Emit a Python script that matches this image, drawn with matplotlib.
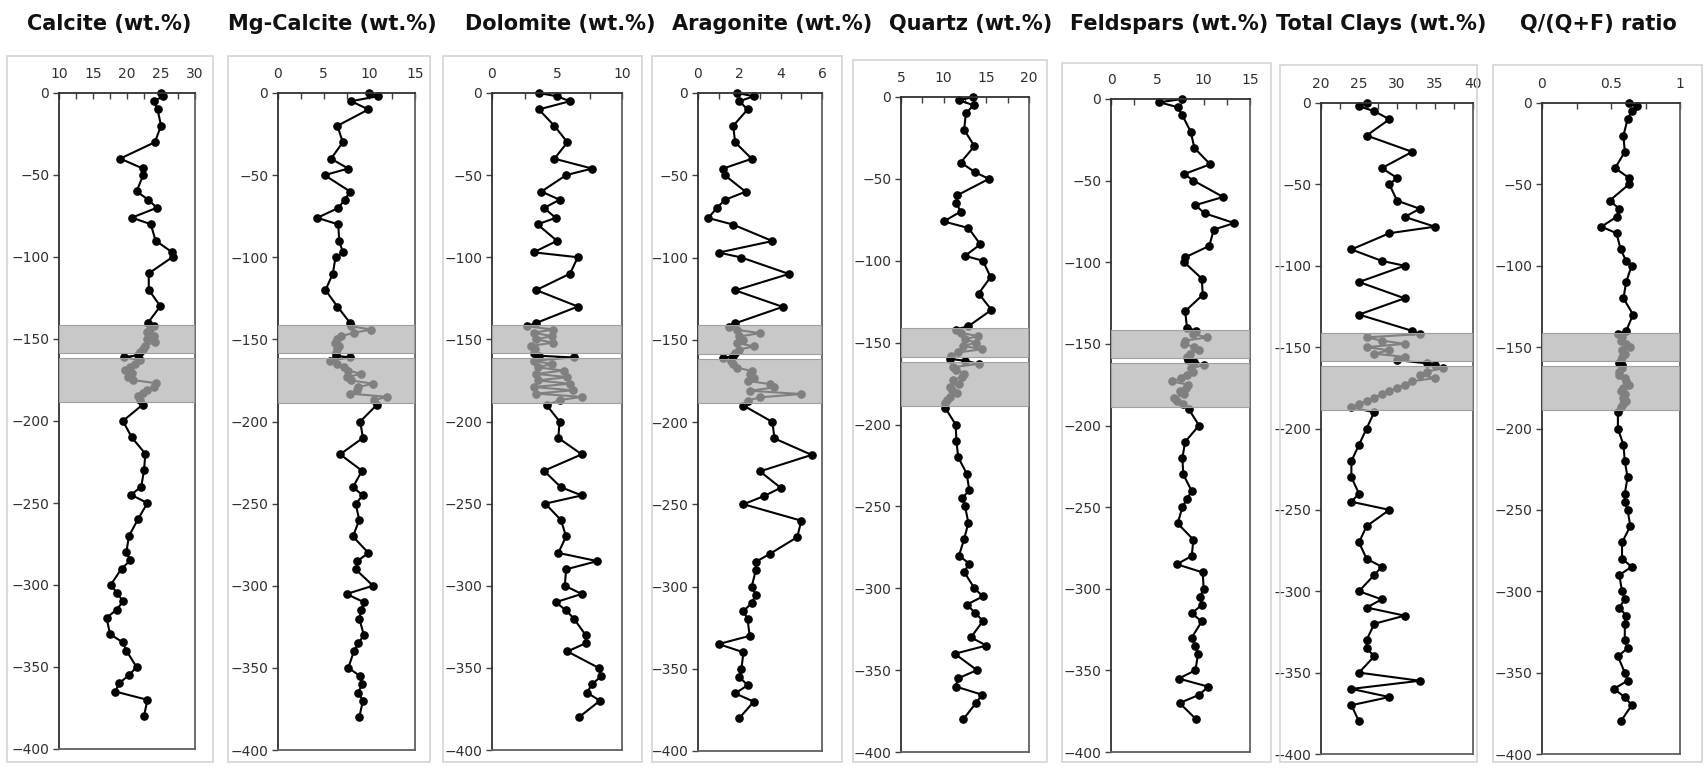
import matplotlib
matplotlib.use("Agg")
import matplotlib.pyplot as plt
from matplotlib.patches import Rectangle
from matplotlib.ticker import MultipleLocator, FuncFormatter

# ---------------- data ----------------
depth_top = [0, -2, -5, -10, -20, -30, -40, -46, -50, -60, -65, -70, -76, -80, -90,
             -97, -100, -110, -120, -130, -140]
depth_band1 = [-142, -144, -146, -148, -150, -152, -154, -156, -158]
depth_gap = [-160, -161]
depth_band2 = [-163, -165, -167, -169, -171, -173, -175, -177, -179, -181, -183, -185, -187]
depth_bottom = [-190, -200, -210, -220, -230, -240, -245, -250, -260, -270, -280, -285,
                -290, -300, -305, -310, -315, -320, -330, -335, -340, -350, -355, -360,
                -365, -370, -380]
depth = depth_top + depth_band1 + depth_gap + depth_band2 + depth_bottom

calcite = [25.0, 25.3, 23.9, 24.5, 25.0, 24.1, 19.0, 22.3, 22.4, 21.4, 23.1, 24.4, 20.7, 23.5,
           24.2, 26.6, 26.7, 23.2, 23.2, 24.9, 23.1,
           23.9, 23.4, 23.0, 24.0, 22.9, 24.1, 22.6, 22.4, 21.9,
           21.6, 19.5,
           21.9, 21.2, 20.5, 19.7, 20.7, 20.2, 20.9, 24.3, 23.9, 22.9, 22.4, 21.6, 21.9,
           22.3, 19.4, 20.7, 22.7, 22.5, 22.1, 20.6, 23.0, 21.6, 20.3, 19.9, 20.5, 19.2, 17.6,
           18.6, 19.4, 18.5, 17.0, 17.5, 19.4, 19.9, 21.4, 20.3, 18.8, 18.3, 23.0, 22.5]
mg_calcite = [10.0, 10.9, 8.0, 9.9, 6.5, 7.1, 5.8, 7.7, 5.1, 7.9, 7.3, 6.6, 4.3, 6.6, 6.7, 7.1,
              6.3, 6.0, 5.2, 6.5, 7.9,
              8.0, 10.2, 8.3, 6.9, 6.5, 6.2, 6.7, 6.5, 6.3,
              6.4, 7.9,
              5.7, 6.5, 7.2, 7.7, 9.1, 7.5, 8.0, 10.4, 8.8, 8.6, 7.9, 11.9, 10.5,
              10.8, 9.0, 9.3, 6.8, 9.2, 8.2, 9.3, 8.5, 8.9, 8.2, 9.9, 8.7, 8.5, 10.4, 7.5, 9.4,
              9.1, 8.9, 9.4, 8.8, 8.3, 7.7, 9.0, 9.2, 8.8, 9.3, 8.9]
dolomite = [3.6, 5.0, 6.0, 3.6, 4.8, 5.8, 4.8, 7.7, 5.7, 3.8, 5.2, 4.0, 4.9, 3.5, 5.0, 3.2,
            6.6, 6.0, 3.4, 6.6, 3.4,
            2.7, 4.7, 3.2, 4.6, 3.4, 4.7, 3.0, 3.3, 3.2,
            3.6, 6.3,
            3.2, 4.6, 3.5, 5.5, 3.4, 5.8, 3.5, 6.0, 3.2, 6.2, 3.4, 6.9, 5.2,
            4.2, 5.2, 5.1, 6.9, 4.0, 5.3, 6.9, 4.1, 5.3, 5.7, 5.1, 8.1, 5.7, 5.6, 6.9, 4.9,
            5.7, 6.3, 7.2, 7.2, 5.8, 8.2, 8.4, 7.7, 7.3, 8.3, 6.7]
aragonite = [1.9, 2.7, 2.0, 2.4, 1.7, 1.8, 2.6, 1.2, 1.3, 2.3, 1.3, 0.9, 0.5, 1.7, 3.6, 1.0,
             2.1, 4.4, 1.8, 4.1, 1.8,
             1.5, 1.9, 3.0, 2.0, 2.2, 1.9, 2.7, 2.0, 1.8,
             1.7, 1.2,
             1.6, 1.7, 1.9, 2.6, 2.5, 2.7, 2.4, 3.5, 3.7, 2.5, 5.0, 3.0, 2.4,
             2.2, 3.6, 3.7, 5.5, 3.0, 4.0, 3.2, 2.2, 5.0, 4.8, 3.5, 2.8, 2.8, 2.6, 2.8, 2.6,
             2.2, 2.4, 2.5, 1.0, 2.2, 2.1, 2.0, 2.4, 1.8, 2.7, 2.0]
quartz = [13.4, 11.8, 13.5, 12.6, 12.4, 13.6, 12.0, 13.7, 15.3, 11.6, 11.5, 12.0, 10.0, 12.9,
          14.3, 12.5, 14.6, 15.5, 14.1, 15.6, 12.9,
          11.4, 12.0, 14.0, 12.5, 13.8, 12.3, 14.5, 11.7, 10.9,
          10.7, 12.5,
          14.1, 11.1, 11.5, 12.4, 12.1, 11.1, 11.8, 10.7, 11.0, 11.6, 10.7, 10.4, 10.2,
          10.2, 11.4, 11.5, 11.7, 12.7, 13.0, 12.2, 12.5, 12.9, 12.4, 11.8, 13.0, 12.4, 13.6,
          14.6, 12.7, 13.7, 14.6, 13.2, 15.0, 11.3, 13.9, 11.7, 11.4, 14.5, 13.8, 12.3]
feldspars = [7.7, 5.2, 7.2, 7.7, 8.6, 9.0, 10.7, 7.9, 8.9, 12.1, 9.1, 10.1, 13.3, 11.1, 10.6,
             8.0, 7.9, 9.8, 9.9, 8.0, 8.2,
             9.2, 8.8, 10.4, 8.0, 7.9, 9.0, 9.5, 8.5, 8.2,
             8.3, 9.0,
             10.0, 8.6, 8.9, 8.2, 7.6, 6.6, 8.3, 8.1, 7.4, 7.9, 6.8, 7.1, 7.8,
             8.4, 9.5, 8.0, 7.7, 7.8, 8.7, 8.2, 7.7, 7.2, 8.9, 8.7, 7.1, 9.9, 10.0, 9.6, 9.8,
             8.7, 9.8, 8.7, 9.1, 9.4, 9.1, 7.3, 10.5, 9.5, 7.4, 9.2]
total_clays = [26, 25, 27, 29, 26, 32, 28, 30, 29, 30, 33, 31, 35, 29, 24, 28, 31, 25, 31, 25, 32,
               33, 26, 28, 31, 26, 29, 27, 31, 30,
               34, 35,
               36, 34, 33, 35, 32, 31, 30, 29, 28, 27, 26, 25, 24,
               27, 26, 25, 24, 24, 25, 24, 29, 26, 25, 26, 28, 27, 25, 28, 26, 31, 27, 26, 26,
               27, 25, 33, 24, 29, 24, 25]
qf_ratio = [0.63, 0.69, 0.65, 0.62, 0.59, 0.60, 0.53, 0.63, 0.63, 0.49, 0.56, 0.54, 0.43, 0.54,
            0.57, 0.61, 0.65, 0.61, 0.59, 0.66, 0.61,
            0.55, 0.58, 0.57, 0.61, 0.64, 0.58, 0.60, 0.58, 0.57,
            0.56, 0.58,
            0.58, 0.56, 0.56, 0.60, 0.61, 0.63, 0.59, 0.57, 0.60, 0.59, 0.61, 0.59, 0.57,
            0.55, 0.55, 0.59, 0.60, 0.62, 0.60, 0.60, 0.62, 0.64, 0.58, 0.58, 0.65, 0.56, 0.58,
            0.60, 0.56, 0.61, 0.60, 0.60, 0.62, 0.55, 0.60, 0.62, 0.52, 0.60, 0.65, 0.57]

titles = ["Calcite (wt.%)", "Mg-Calcite (wt.%)", "Dolomite (wt.%)", "Aragonite (wt.%)",
          "Quartz (wt.%)", "Feldspars (wt.%)", "Total Clays (wt.%)", "Q/(Q+F) ratio"]
series = [calcite, mg_calcite, dolomite, aragonite, quartz, feldspars, total_clays, qf_ratio]
x_ranges = [(10, 30), (0, 15), (0, 10), (0, 6), (5, 20), (0, 15), (20, 40), (0, 1)]
x_major = [5, 5, 5, 2, 5, 5, 5, 0.5]
x_minor = [2.5, 2.5, 2.5, 1, 2.5, 2.5, 2.5, 0.25]
band_ranges = [(-158.5, -141.2), (-188.5, -161.6)]

# ---------------- layout (pixels) ----------------
W, H = 1705, 771
axes_px = [(59, 93, 195, 749), (278, 93, 415, 750), (492, 93, 622, 750), (698, 93, 822, 751),
           (901, 97, 1029, 752), (1111, 99, 1250, 752), (1321, 103, 1473, 754),
           (1542, 103, 1680, 754)]
frame_px = [(7, 56, 213, 762), (228, 56, 430, 762), (443, 56, 642, 762), (652, 56, 842, 762),
            (853, 60, 1047, 762), (1062, 63, 1271, 762), (1280, 65, 1477, 762),
            (1493, 65, 1702, 762)]
title_x = [109, 332, 560, 772, 971, 1169, 1381, 1598]

fig = plt.figure(figsize=(W / 100, H / 100), dpi=100)
fig.patch.set_facecolor("white")
fmt = FuncFormatter(lambda v, p: "%g" % v)

for i in range(8):
    fx0, fy0, fx1, fy1 = frame_px[i]
    fig.add_artist(Rectangle((fx0 / W, 1 - fy1 / H), (fx1 - fx0) / W, (fy1 - fy0) / H,
                             transform=fig.transFigure, fill=False, ec="#d4d4d4", lw=1.2))
    x0, y0, x1, y1 = axes_px[i]
    ax = fig.add_axes([x0 / W, 1 - y1 / H, (x1 - x0) / W, (y1 - y0) / H])
    ax.plot(series[i], depth, "-o", color="black", lw=1.5, ms=5.2, zorder=2, clip_on=False)
    for lo, hi in band_ranges:
        ax.axhspan(lo, hi, facecolor=(0.70, 0.70, 0.70, 0.72), edgecolor="#a0a0a0",
                   lw=0.8, zorder=3)
    ax.set_xlim(*x_ranges[i])
    ax.set_ylim(-400, 0)
    ax.xaxis.tick_top()
    ax.xaxis.set_major_locator(MultipleLocator(x_major[i]))
    ax.xaxis.set_minor_locator(MultipleLocator(x_minor[i]))
    ax.xaxis.set_major_formatter(fmt)
    ax.yaxis.set_major_locator(MultipleLocator(50))
    ax.tick_params(axis="x", which="both", direction="in", length=4, width=1,
                   color="#404040", pad=9, labelsize=10, labelcolor="#303030")
    ax.tick_params(axis="y", which="major", direction="out", length=4, width=1,
                   color="#404040", pad=3, labelsize=10, labelcolor="#303030")
    for s in ["top", "left"]:
        ax.spines[s].set_color("#303030")
        ax.spines[s].set_linewidth(1.3)
    for s in ["right", "bottom"]:
        ax.spines[s].set_color("#606060")
        ax.spines[s].set_linewidth(1.3)
    ax.set_facecolor("white")
    fig.text(title_x[i] / W, 1 - 24 / H, titles[i], ha="center", va="center",
             fontsize=15, fontweight="bold", color="#111111")

fig.savefig("out.png", dpi=100)
